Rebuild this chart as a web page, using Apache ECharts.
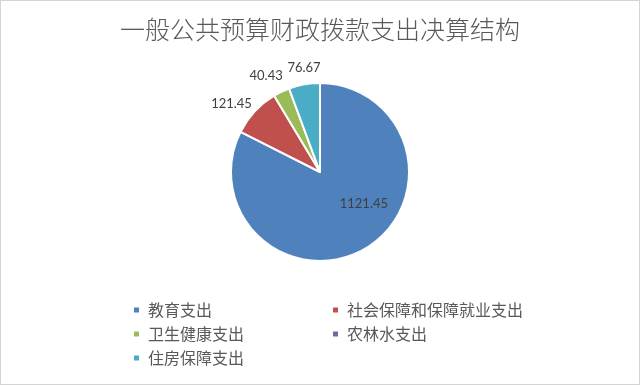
<!DOCTYPE html>
<html>
<head>
<meta charset="utf-8">
<script src="https://cdn.jsdelivr.net/npm/echarts@6/dist/echarts.min.js"></script>
<style>
html,body{margin:0;padding:0;background:#fff;}
#main{width:640px;height:385px;box-sizing:border-box;border:1px solid #d4d4d4;}
</style>
</head>
<body>
<div id="main"></div>
<script>
const titleText = '一般公共预算财政拨款支出决算结构';
const categories = ['教育支出', '社会保障和保障就业支出', '卫生健康支出', '农林水支出', '住房保障支出'];
const values = [1121.45, 121.45, 40.43, 0, 76.67];
const colors = ['#4F81BD', '#C0504D', '#9BBB59', '#8064A2', '#4BACC6'];
const labelShift = [[19, -9], [5, -5], [8, -12], [0, 0], [22, -13]];

const chart = echarts.init(document.getElementById('main'), null, {renderer: 'canvas'});
const data = categories.map((c, i) => ({
  name: c,
  value: values[i],
  itemStyle: {color: colors[i]},
  label: i === 0 ? {position: 'inner'} : {position: 'outside'}
}));
const legendText = {fontFamily: 'Noto Sans CJK SC', fontSize: 16, color: '#595959', padding: [0, 0, 0, 3]};
const legendBase = {orient: 'vertical', top: 296, itemWidth: 7, itemHeight: 7, itemGap: 8, icon: 'rect', textStyle: legendText};
chart.setOption({
  animation: false,
  backgroundColor: '#fff',
  title: {
    text: titleText,
    left: 'center',
    top: 11,
    textStyle: {fontFamily: 'Noto Sans CJK SC', fontSize: 25, fontWeight: 300, color: '#595959'}
  },
  legend: [
    Object.assign({}, legendBase, {left: 126, data: [categories[0], categories[2], categories[4]]}),
    Object.assign({}, legendBase, {left: 325, data: [categories[1], categories[3]]})
  ],
  series: [{
    type: 'pie',
    center: [319, 171],
    radius: 89,
    startAngle: 90,
    clockwise: true,
    avoidLabelOverlap: false,
    itemStyle: {borderColor: '#fff', borderWidth: 2},
    label: {
      show: true,
      fontFamily: 'Lato',
      fontSize: 13,
      color: '#404040',
      formatter: p => p.value ? p.value.toFixed(2) : ''
    },
    labelLine: {show: false, length: 4, length2: 0},
    labelLayout: p => ({dx: labelShift[p.dataIndex][0], dy: labelShift[p.dataIndex][1], hideOverlap: false}),
    data: data
  }]
});
</script>
</body>
</html>
